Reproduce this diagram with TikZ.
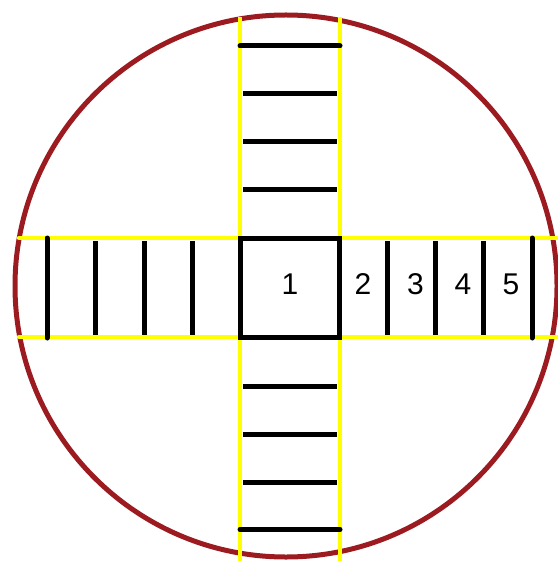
\documentclass[tikz,border=0pt]{standalone}
\usepackage{fontspec}
\setmainfont{Liberation Sans}
\usetikzlibrary{positioning}

\definecolor{rimred}{RGB}{155,27,32}
\definecolor{railyellow}{RGB}{255,255,0}

\begin{document}
\begin{tikzpicture}[
        x=1pt, y=-1pt,
        rim/.style={draw=rimred, line width=5pt},
        rail/.style={draw=railyellow, line width=4.5pt},
        rung/.style={draw=black, line width=5pt},
        endrung/.style={rung, line cap=round},
        every node/.style={inner sep=0pt, font=\fontsize{30}{36}\selectfont}
    ]
        \useasboundingbox (0,0) rectangle (557,561);

        % Outer circle
        \draw[rim] (286,286) circle[radius=271];

        % Yellow rails of the cross
        \draw[rail] (240,17) -- (240,561);
        \draw[rail] (340,17) -- (340,561);
        \draw[rail, line cap=round] (19,238) -- (557,238);
        \draw[rail, line cap=round] (19,337) -- (557,337);

        % Central square
        \draw[rung] (240,238) rectangle (339,337);

        % Rungs of the upper and lower arms
        \draw[endrung] (240,46) -- (340,46);
        \foreach \y in {94,142,190,386,434,482}
            \draw[rung] (243,\y) -- (337,\y);
        \draw[endrung] (240,529.5) -- (340,529.5);

        % Rungs of the left and right arms
        \draw[endrung] (47,238) -- (47,338);
        \foreach \x in {95,144,192,387,435,483}
            \draw[rung] (\x,241) -- (\x,335);
        \draw[endrung] (532,238) -- (532,338);

        % Cell numbers
        \node (n1) at (290,284) {1};
        \node (n2) at (363,284) {2};
        \node (n3) at (415.5,284) {3};
        \node (n4) at (463,284) {4};
        \node (n5) at (511,284) {5};

    \end{tikzpicture}
\end{document}
